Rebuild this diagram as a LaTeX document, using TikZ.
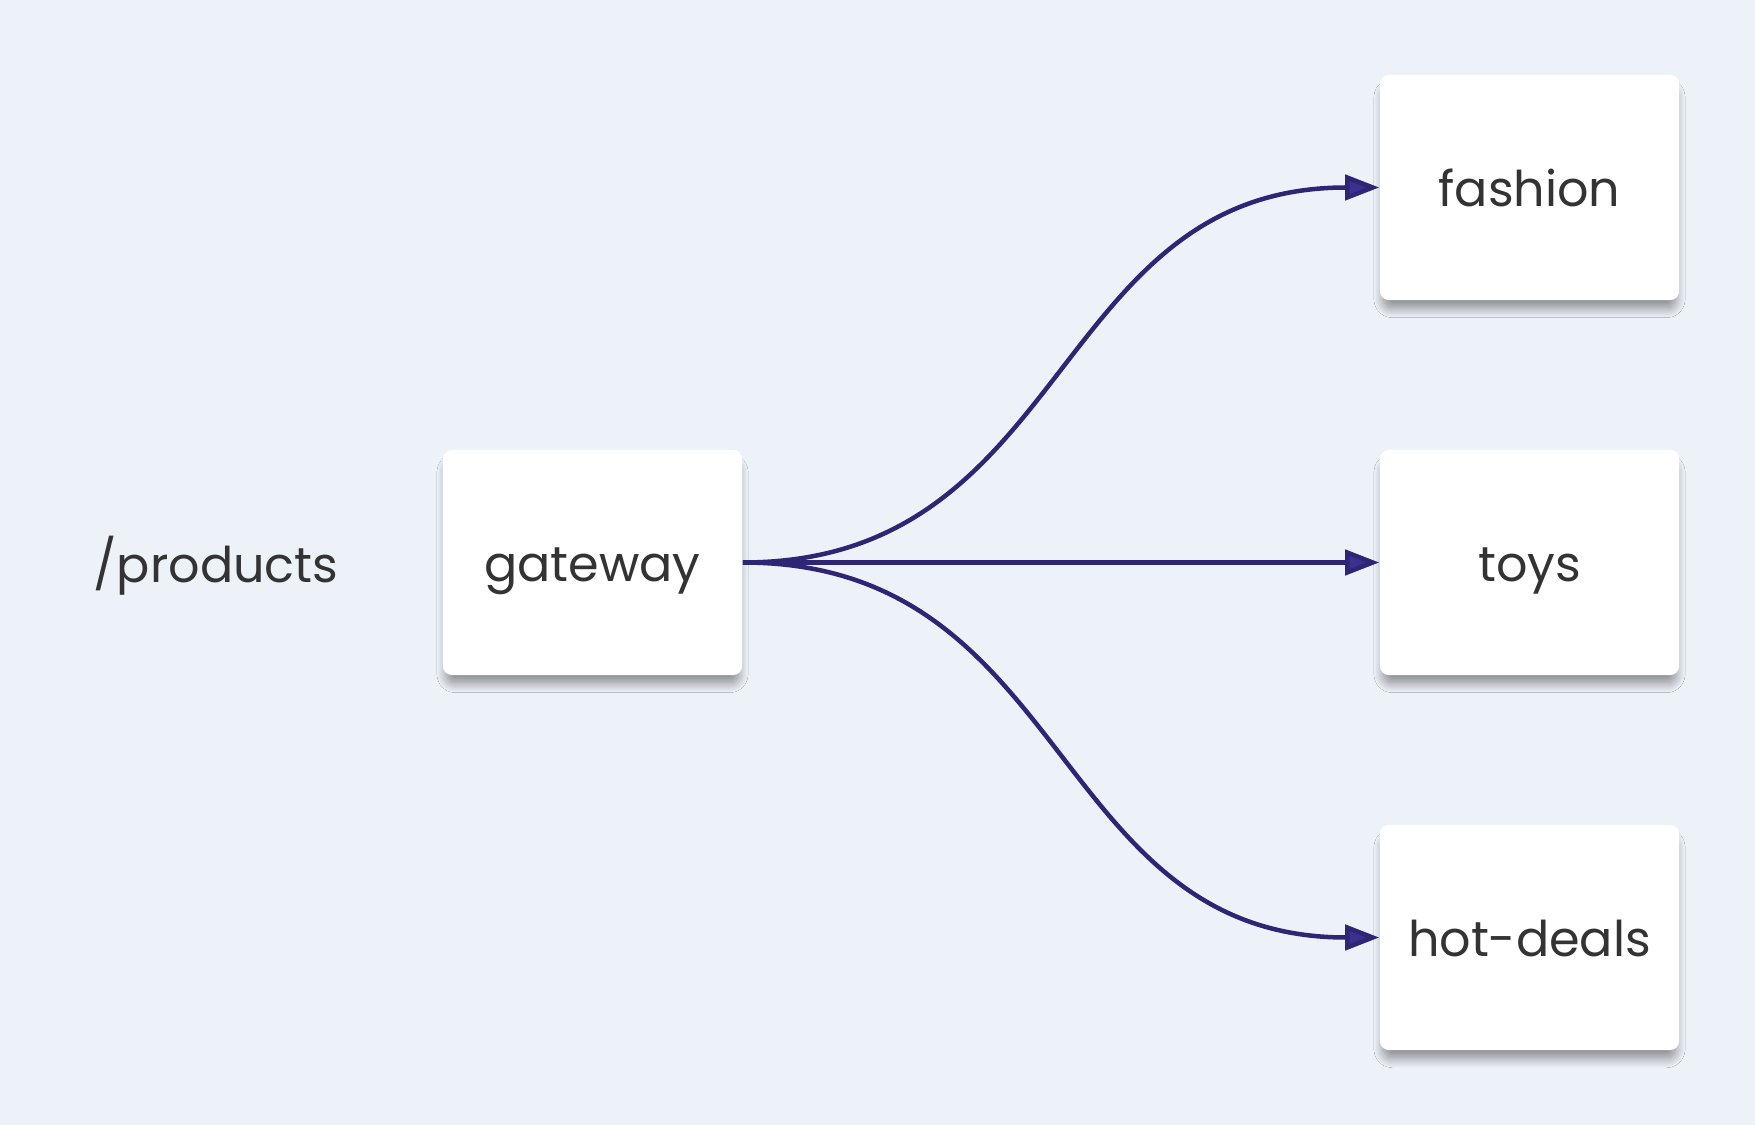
\documentclass[tikz,border=0pt]{standalone}
\usepackage{fontspec}
\setmainfont{Poppins}
\usepackage{tikz}
\usetikzlibrary{
  arrows.meta,
  positioning,
  shadows.blur
}
\definecolor{bgblue}{HTML}{EDF2F9}
\definecolor{edgeblue}{HTML}{2E2574}
\definecolor{tipblue}{HTML}{3A3090}
\definecolor{textgray}{HTML}{333333}

\begin{document}
\begin{tikzpicture}[
  x=0.01cm, y=-0.01cm,
  svc/.style ={fill=white,rounded corners=0.09cm,minimum width=2.99cm,
               minimum height=2.25cm,font=\fontsize{14}{17}\selectfont,
               text=textgray,inner sep=0pt,text height=1.1em,text depth=0pt,
               blur shadow={shadow xshift=0pt,shadow yshift=-0.11cm,
                            shadow scale=0.975,shadow blur radius=0.1cm,
                            shadow blur steps=20,shadow opacity=45}},
  route/.style={font=\fontsize{14}{17}\selectfont,text=textgray,
                text height=1.1em,text depth=0pt},
  arr/.style ={-{Triangle[length=0.34cm,width=0.25cm,fill=tipblue]},
               draw=edgeblue,line width=0.045cm},
]
\useasboundingbox[fill=bgblue] (0,0) rectangle (1755,1125);

\node[route] (path)    at (216,563)      {/products};
\node[svc]   (gateway) at (592.5,562.5)  {gateway};
\node[svc]   (fashion) at (1529.5,187.5) {fashion};
\node[svc]   (toys)    at (1529.5,562.5) {toys};
\node[svc]   (deals)   at (1529.5,937.5) {hot-deals};

\draw[arr] (gateway.east) .. controls +(330,0) and +(-330,0) .. (fashion.west);
\draw[arr] (gateway.east) -- (toys.west);
\draw[arr] (gateway.east) .. controls +(330,0) and +(-330,0) .. (deals.west);
\end{tikzpicture}
\end{document}
